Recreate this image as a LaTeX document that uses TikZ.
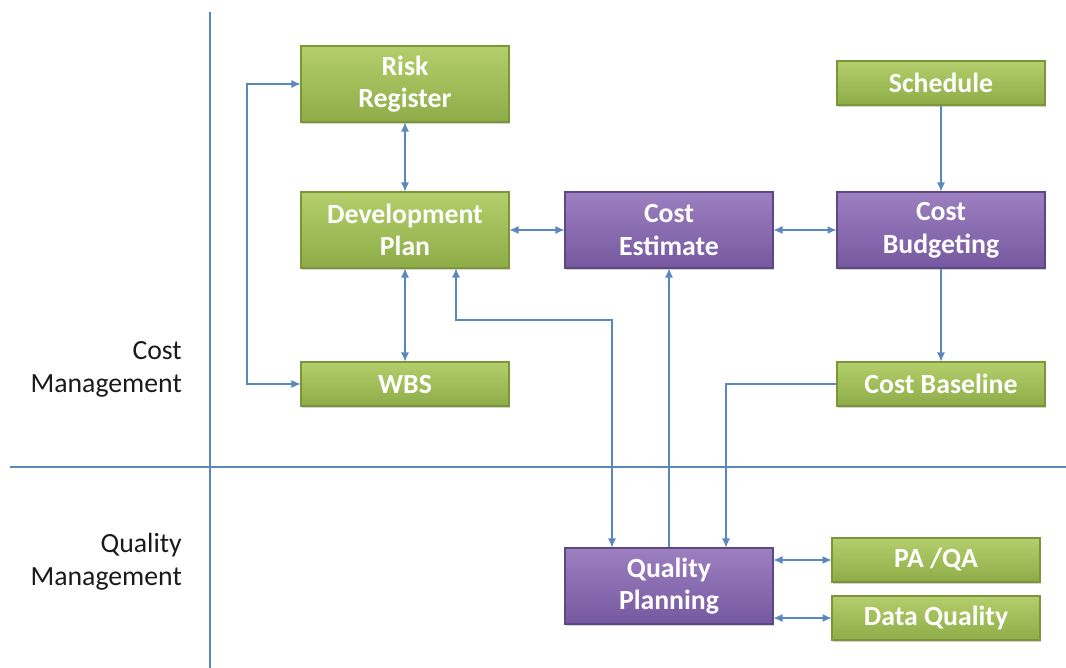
\documentclass[tikz,border=0pt]{standalone}
\usepackage{fontspec}
\setsansfont{Carlito}
\usepackage{tikz}
\usetikzlibrary{arrows.meta,shadows}
\definecolor{cqGreenTop}{HTML}{B4CF6C}
\definecolor{cqGreenBot}{HTML}{8DAC48}
\definecolor{cqGreenLine}{HTML}{7A9638}
\definecolor{cqPurpleTop}{HTML}{9C80C0}
\definecolor{cqPurpleBot}{HTML}{7658A0}
\definecolor{cqPurpleLine}{HTML}{5F4784}
\definecolor{cqLink}{HTML}{5A88BE}
\definecolor{cqInk}{HTML}{1A1A1A}
\tikzset{
  cq diagram/.style={font=\sffamily, x=0.02cm, y=-0.02cm,
    line cap=butt, line join=miter},
  cq box/.style={line width=0.6pt, align=center, text=white,
    font=\sffamily\bfseries\fontsize{15.8}{18.6}\selectfont,
    minimum width=4.16cm, inner sep=2pt,
    drop shadow={shadow xshift=0.6pt, shadow yshift=-0.9pt, opacity=0.35}},
  cq green/.style={cq box, draw=cqGreenLine,
    top color=cqGreenTop, bottom color=cqGreenBot},
  cq purple/.style={cq box, draw=cqPurpleLine,
    top color=cqPurpleTop, bottom color=cqPurpleBot},
  cq tall/.style={minimum height=1.52cm},
  cq flat/.style={minimum height=0.88cm},
  cq arrow/.style={-{Latex[length=1.8mm,width=1.6mm]}, draw=cqLink, line width=0.6pt},
  cq both/.style={cq arrow, {Latex[length=1.8mm,width=1.6mm]}-{Latex[length=1.8mm,width=1.6mm]}},
  cq axis/.style={draw=cqLink, line width=0.6pt},
  cq label/.style={font=\sffamily\fontsize{15.8}{18.8}\selectfont, text=cqInk,
    align=right, anchor=east}
}
\begin{document}
\begin{tikzpicture}[cq diagram]
\useasboundingbox (0,0) rectangle (1066,668);
% swim lanes
\draw[cq axis] (210,12) -- (210,668);
\draw[cq axis] (10,467) -- (1066,467);
\node[cq label] (costlane) at (188,369) {Cost\\Management};
\node[cq label] (qualane) at (188,562) {Quality\\Management};
% boxes
\node[cq green,cq tall] (risk) at (405,84) {Risk\\Register};
\node[cq green,cq tall] (devplan) at (405,230) {Development\\Plan};
\node[cq green,cq flat] (wbs) at (405,384) {WBS};
\node[cq purple,cq tall] (estimate) at (669,230) {Cost\\Estimate};
\node[cq green,cq flat] (schedule) at (941,83) {Schedule};
\node[cq purple,cq tall] (budget) at (941,230) {Cost\\Budgeting};
\node[cq green,cq flat] (baseline) at (941,384) {Cost Baseline};
\node[cq purple,cq tall] (qplan) at (669,586) {Quality\\Planning};
\node[cq green,cq flat] (paqa) at (936,560) {PA /QA};
\node[cq green,cq flat] (dataq) at (936,618) {Data Quality};
% bends
\coordinate (loopx) at (247,230);
\coordinate (dpbend) at (456,320);
\coordinate (qpbend) at (612,320);
\coordinate (blbend) at (726,384);
% links
\draw[cq both] (risk) -- (devplan);
\draw[cq both] (devplan) -- (wbs);
\draw[cq both] (risk.west) -- (loopx |- risk.west) -- (loopx |- wbs.west) -- (wbs.west);
\draw[cq both] (devplan) -- (estimate);
\draw[cq both] (estimate) -- (budget);
\draw[cq arrow] (schedule) -- (budget);
\draw[cq arrow] (budget) -- (baseline);
\draw[cq both] (dpbend |- devplan.south) -- (dpbend) -- (qpbend) -- (qpbend |- qplan.north);
\draw[cq arrow] (qplan) -- (estimate);
\draw[cq arrow] (baseline.west) -- (blbend) -- (blbend |- qplan.north);
\draw[cq both] (qplan.east |- paqa.west) -- (paqa.west);
\draw[cq both] (qplan.east |- dataq.west) -- (dataq.west);
\end{tikzpicture}
\end{document}
